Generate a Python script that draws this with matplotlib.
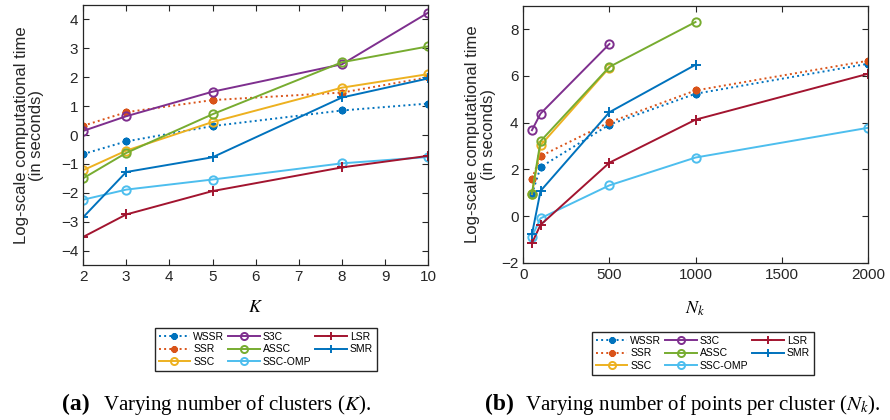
import matplotlib.pyplot as plt

plt.rcParams['font.family'] = ['Liberation Sans', 'DejaVu Sans']
plt.rcParams['mathtext.fontset'] = 'stix'

# Series names in legend order
names = ['WSSR', 'SSR', 'SSC', 'S3C', 'ASSC', 'SSC-OMP', 'LSR', 'SMR']

# (a) varying number of clusters K
k_values = [2, 3, 5, 8, 10]
time_k = {
    'WSSR': [-0.66, -0.22, 0.31, 0.85, 1.09],
    'SSR': [0.32, 0.79, 1.21, 1.47, 2.0],
    'SSC': [-1.22, -0.54, 0.45, 1.64, 2.11],
    'S3C': [0.14, 0.65, 1.5, 2.45, 4.24],
    'ASSC': [-1.5, -0.62, 0.72, 2.52, 3.07],
    'SSC-OMP': [-2.24, -1.89, -1.54, -0.98, -0.76],
    'LSR': [-3.53, -2.75, -1.94, -1.12, -0.72],
    'SMR': [-2.85, -1.28, -0.77, 1.3, 1.96],
}

# (b) varying number of points per cluster Nk
nk_values = [50, 100, 500, 1000, 2000]
time_nk = {
    'WSSR': [0.94, 2.1, 3.92, 5.24, 6.52],
    'SSR': [1.6, 2.57, 4.02, 5.38, 6.65],
    'SSC': [0.95, 3.03, 6.36],
    'S3C': [3.68, 4.39, 7.37],
    'ASSC': [0.97, 3.21, 6.39, 8.31],
    'SSC-OMP': [-0.87, -0.09, 1.32, 2.51, 3.78],
    'LSR': [-1.15, -0.37, 2.29, 4.13, 6.09],
    'SMR': [-0.78, 1.08, 4.45, 6.48],
}

star = (8, 2, 0)  # MATLAB-like asterisk
styles = {
    'WSSR': dict(color='#0072BD', ls=':', marker=star, ms=5.5, mew=1.5),
    'SSR': dict(color='#D95319', ls=':', marker=star, ms=5.5, mew=1.5),
    'SSC': dict(color='#EDB120', ls='-', marker='o', ms=6, mfc='none', mew=1.4),
    'S3C': dict(color='#7E2F8E', ls='-', marker='o', ms=6, mfc='none', mew=1.4),
    'ASSC': dict(color='#77AC30', ls='-', marker='o', ms=6, mfc='none', mew=1.4),
    'SSC-OMP': dict(color='#4DBEEE', ls='-', marker='o', ms=6, mfc='none', mew=1.4),
    'LSR': dict(color='#A2142F', ls='-', marker='+', ms=6.5, mew=1.4),
    'SMR': dict(color='#0072BD', ls='-', marker='+', ms=6.5, mew=1.4),
}

fig = plt.figure(figsize=(8.9, 4.2), dpi=100)
ax1 = fig.add_axes([0.0933, 0.369, 0.388, 0.619])
ax2 = fig.add_axes([0.588, 0.374, 0.387, 0.612])

for ax, xs, data in [(ax1, k_values, time_k), (ax2, nk_values, time_nk)]:
    for name in names:
        ys = data[name]
        ax.plot(xs[:len(ys)], ys, lw=1.4, label=name, **styles[name])
    ax.tick_params(direction='in', top=True, right=True, labelsize=11,
                   colors='#262626', length=4)
    for sp in ax.spines.values():
        sp.set_color('#262626')
        sp.set_linewidth(0.9)
    ax.set_ylabel('Log-scale computational time\n(in seconds)', fontsize=12,
                  color='#262626', linespacing=1.05)
    ax.legend(ncol=3, fontsize=7.5, handlelength=3.0, frameon=True, fancybox=False,
              edgecolor='#262626', framealpha=1, columnspacing=0.4,
              handletextpad=0.3, borderpad=0.35, labelspacing=0.25,
              markerscale=0.85, loc='upper left',
              bbox_to_anchor=(0.1685, 0.231) if ax is ax1 else (0.6596, 0.2214),
              bbox_transform=fig.transFigure)

ax1.set_xlim(2, 10)
ax1.set_ylim(-4.5, 4.5)
ax1.set_xticks(range(2, 11))
ax1.set_yticks(range(-4, 5))
ax1.set_xlabel('$K$', fontsize=13, labelpad=11)
ax1.yaxis.labelpad = 12

ax2.set_xlim(0, 2000)
ax2.set_ylim(-2, 9)
ax2.set_xticks([0, 500, 1000, 1500, 2000])
ax2.set_yticks([-2, 0, 2, 4, 6, 8])
ax2.set_xlabel('$N_k$', fontsize=13, labelpad=13)
ax2.yaxis.labelpad = 4

# Subcaptions
fig.text(0.0697, 0.036, '(a)', fontsize=17, fontweight='bold',
         family='Liberation Serif', va='center')
fig.text(0.116, 0.036, 'Varying number of clusters ($K$).', fontsize=15,
         family='Liberation Serif', va='center')
fig.text(0.545, 0.036, '(b)', fontsize=17, fontweight='bold',
         family='Liberation Serif', va='center')
fig.text(0.590, 0.036, 'Varying number of points per cluster ($N_k$).', fontsize=15,
         family='Liberation Serif', va='center')

fig.savefig('out.png', dpi=100)
